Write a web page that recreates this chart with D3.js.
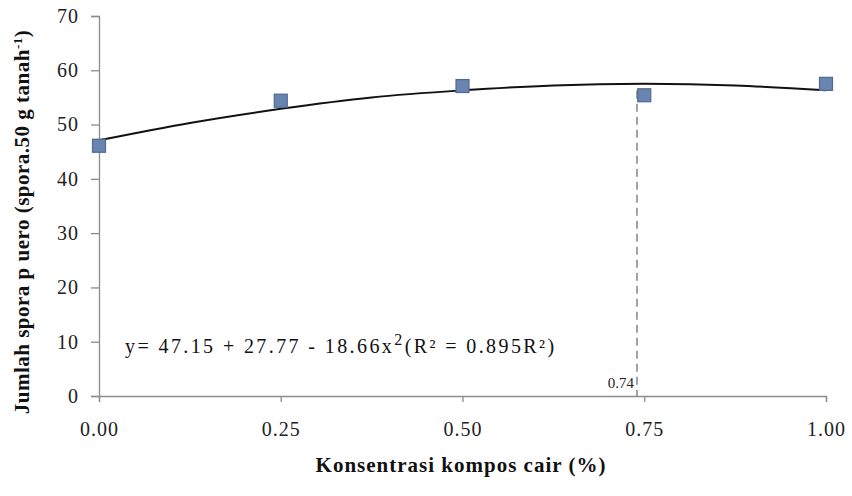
<!DOCTYPE html>
<html>
<head>
<meta charset="utf-8">
<script src="https://cdn.jsdelivr.net/npm/d3@7"></script>
<style>
  body { margin: 0; background: #fff; }
  svg { display: block; font-family: "Liberation Serif", "DejaVu Serif", serif; }
</style>
</head>
<body>
<script>
// observed points
const konsentrasi = [0, 0.25, 0.5, 0.75, 1.0];
const jumlahSpora = [46.1, 54.4, 57.1, 55.4, 57.5];

// trend line
const trendX = [0, 0.125, 0.25, 0.375, 0.5, 0.625, 0.75, 0.875, 1.0];
const trendY = [47.1, 50.3, 52.9, 55.0, 56.3, 57.2, 57.5, 57.2, 56.3];

const xTicks = [0, 0.25, 0.5, 0.75, 1.0];
const yTicks = [0, 10, 20, 30, 40, 50, 60, 70];
const optimum = 0.74;
const optimumY = 57.5;

const width = 852, height = 496;
const svg = d3.select('body').append('svg')
    .attr('width', width)
    .attr('height', height);

const x = d3.scaleLinear().domain([0, 1]).range([99, 826]);
const y = d3.scaleLinear().domain([0, 70]).range([396, 16]);

// axes
const xAxis = svg.append('g')
    .attr('transform', `translate(0,${y(0)})`)
    .call(d3.axisBottom(x).tickValues(xTicks).tickFormat(d3.format('.2f')).tickSize(6).tickPadding(20));
const yAxis = svg.append('g')
    .attr('transform', `translate(${x(0)},0)`)
    .call(d3.axisLeft(y).tickValues(yTicks).tickSize(8).tickPadding(12));

[xAxis, yAxis].forEach(g => {
    g.select('.domain').attr('stroke', '#8c8c8c').attr('stroke-width', 1.3);
    g.selectAll('.tick line').attr('stroke', '#8c8c8c').attr('stroke-width', 1.3);
    g.selectAll('.tick text')
        .attr('fill', '#222')
        .style('font-family', '"Liberation Serif", serif')
        .style('font-size', '20px')
        .style('letter-spacing', '1px');
});

// dashed optimum line
svg.append('line')
    .attr('x1', x(optimum)).attr('x2', x(optimum))
    .attr('y1', y(optimumY) + 7).attr('y2', y(0))
    .attr('stroke', '#999')
    .attr('stroke-width', 1.8)
    .attr('stroke-dasharray', '8,5');

svg.append('text')
    .attr('x', x(optimum) - 3)
    .attr('y', y(0) - 8)
    .attr('text-anchor', 'end')
    .attr('fill', '#222')
    .style('font-size', '15px')
    .text('0.74');

// trend line
const line = d3.line()
    .x((d, i) => x(trendX[i]))
    .y(d => y(d))
    .curve(d3.curveMonotoneX);

svg.append('path')
    .datum(trendY)
    .attr('fill', 'none')
    .attr('stroke', '#111')
    .attr('stroke-width', 2)
    .attr('d', line);

// markers
const s = 13;
svg.append('g')
    .selectAll('rect')
    .data(jumlahSpora)
    .join('rect')
    .attr('x', (d, i) => x(konsentrasi[i]) - s / 2)
    .attr('y', d => y(d) - s / 2)
    .attr('width', s)
    .attr('height', s)
    .attr('fill', '#6a84b0')
    .attr('stroke', '#4d6994')
    .attr('stroke-width', 1.2);

// equation
const eq = svg.append('text')
    .attr('x', 125)
    .attr('y', 353)
    .attr('fill', '#111')
    .style('font-size', '20px')
    .style('letter-spacing', '2.4px');
eq.append('tspan').text('y= 47.15 + 27.77 - 18.66x');
eq.append('tspan').attr('dy', -8).style('font-size', '16px').text('2');
eq.append('tspan').attr('dy', 8).text('(R² = 0.895R²)');

// axis titles
svg.append('text')
    .attr('x', 461)
    .attr('y', 472)
    .attr('text-anchor', 'middle')
    .attr('fill', '#111')
    .style('font-size', '21px')
    .style('font-weight', 'bold')
    .style('letter-spacing', '1px')
    .text('Konsentrasi kompos cair (%)');

const yt = svg.append('text')
    .attr('transform', 'translate(29,222) rotate(-90)')
    .attr('text-anchor', 'middle')
    .attr('fill', '#111')
    .style('font-size', '21px')
    .style('font-weight', 'bold')
    .style('letter-spacing', '0.5px');
yt.append('tspan').text('Jumlah spora p uero (spora.50 g tanah');
yt.append('tspan').attr('dy', -7).style('font-size', '13px').text('-1');
yt.append('tspan').attr('dy', 7).text(')');
</script>
</body>
</html>
